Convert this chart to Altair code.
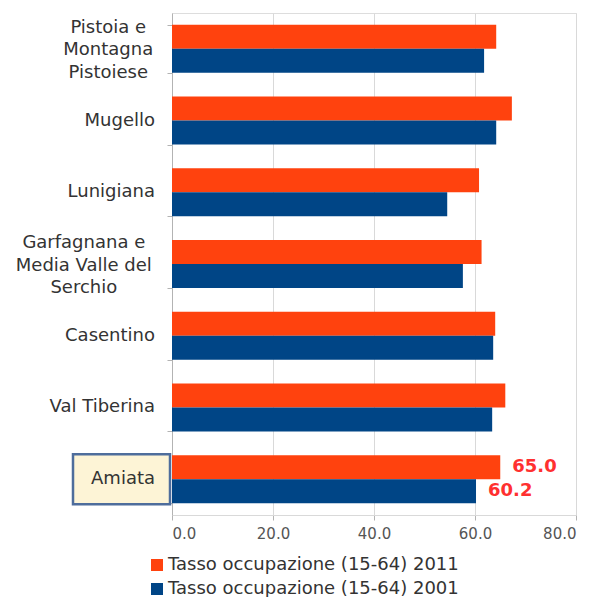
import altair as alt
import pandas as pd

categories = [
    "Pistoia e\nMontagna\nPistoiese",
    "Mugello",
    "Lunigiana",
    "Garfagnana e\nMedia Valle del\nSerchio",
    "Casentino",
    "Val Tiberina",
    "Amiata",
]
series = ["Tasso occupazione (15-64) 2011", "Tasso occupazione (15-64) 2001"]
v2011 = [64.2, 67.3, 60.8, 61.3, 64.0, 66.0, 65.0]
v2001 = [61.8, 64.2, 54.5, 57.6, 63.6, 63.4, 60.2]
colors = ["#ff420e", "#004586"]
x_ticks = [0, 20, 40, 60, 80]
highlight = "Amiata"

rows = []
for c, a, b in zip(categories, v2011, v2001):
    rows.append({"cat": c, "serie": series[0], "val": a})
    rows.append({"cat": c, "serie": series[1], "val": b})
df = pd.DataFrame(rows)
cat_df = pd.DataFrame({"cat": categories})

FONT = "DejaVu Sans"

yscale = alt.Scale(domain=categories, paddingInner=0.33, paddingOuter=0.165)
y_enc = alt.Y("cat:N", scale=yscale, sort=categories,
              axis=alt.Axis(labels=False, title=None, grid=False, tickBand="extent",
                            tickSize=5, tickColor="#b3b3b3", domainColor="#b3b3b3"))

bars = alt.Chart(df).mark_bar(size=24).encode(
    x=alt.X("val:Q", scale=alt.Scale(domain=[0, 80], nice=False),
            axis=alt.Axis(values=x_ticks, format=".1f", title=None, grid=True,
                          gridColor="#d9d9d9", domainColor="#d9d9d9", tickColor="#b3b3b3",
                          tickSize=5, labelFontSize=15, labelColor="#555555",
                          labelPadding=6, labelFont=FONT)),
    y=y_enc,
    yOffset=alt.YOffset("serie:N", sort=series, scale=alt.Scale(domain=series, paddingInner=0, paddingOuter=0)),
    color=alt.Color("serie:N", scale=alt.Scale(domain=series, range=colors),
                    legend=alt.Legend(title=None, orient="none", legendX=-24, legendY=543,
                                      symbolType="square", symbolSize=144, symbolStrokeWidth=0,
                                      labelFontSize=18, labelFont=FONT, labelColor="#333333",
                                      labelOffset=2, rowPadding=6, padding=0, labelLimit=400)),
)

values_txt = alt.Chart(df).transform_filter(
    alt.datum.cat == highlight
).mark_text(align="left", baseline="middle", dx=12, fontSize=18, fontWeight="bold",
            color="#ff3030", font=FONT).encode(
    x=alt.X("val:Q"),
    y=alt.Y("cat:N", sort=categories),
    yOffset=alt.YOffset("serie:N", sort=series),
    text=alt.Text("val:Q", format=".1f"),
)

box = alt.Chart(cat_df).transform_filter(
    alt.datum.cat == highlight
).mark_bar(size=50, orient="horizontal", color="#fdf4d6", stroke="#4e6d9c", strokeWidth=2.5).encode(
    x=alt.value(-99), x2=alt.value(-2),
    y=alt.Y("cat:N", sort=categories),
)

calc = alt.Chart(cat_df).transform_calculate(
    nl="length(split(datum.cat, '\\n'))",
    l0="length(split(datum.cat, '\\n')[0])",
    l1="length(split(datum.cat, '\\n')) > 1 ? length(split(datum.cat, '\\n')[1]) : 0",
    l2="length(split(datum.cat, '\\n')) > 2 ? length(split(datum.cat, '\\n')[2]) : 0",
).transform_calculate(
    cx="-27 - max(datum.l0, datum.l1, datum.l2) * 4.08"
)

multi_lbl = calc.transform_filter("datum.nl > 1").mark_text(
    align="center", baseline="middle", lineBreak="\n", lineHeight=22.5, dy=-21,
    fontSize=18, font=FONT, color="#333333").encode(
    x=alt.X("cx:Q", scale=None),
    y=alt.Y("cat:N", sort=categories),
    text="cat:N",
)

single_lbl = calc.transform_filter("datum.nl == 1").mark_text(
    align="right", baseline="middle", fontSize=18, font=FONT, color="#333333").encode(
    x=alt.value(-17),
    y=alt.Y("cat:N", sort=categories),
    text="cat:N",
)

chart = alt.layer(bars, values_txt, box, multi_lbl, single_lbl).properties(
    width=404, height=502,
    autosize=alt.AutoSizeParams(type="none"),
    padding={"left": 164, "top": 5, "right": 13, "bottom": 82},
).configure_view(stroke="#d9d9d9").configure(font=FONT)

chart.save("out.html", embed_options={"renderer": "svg", "actions": False})
